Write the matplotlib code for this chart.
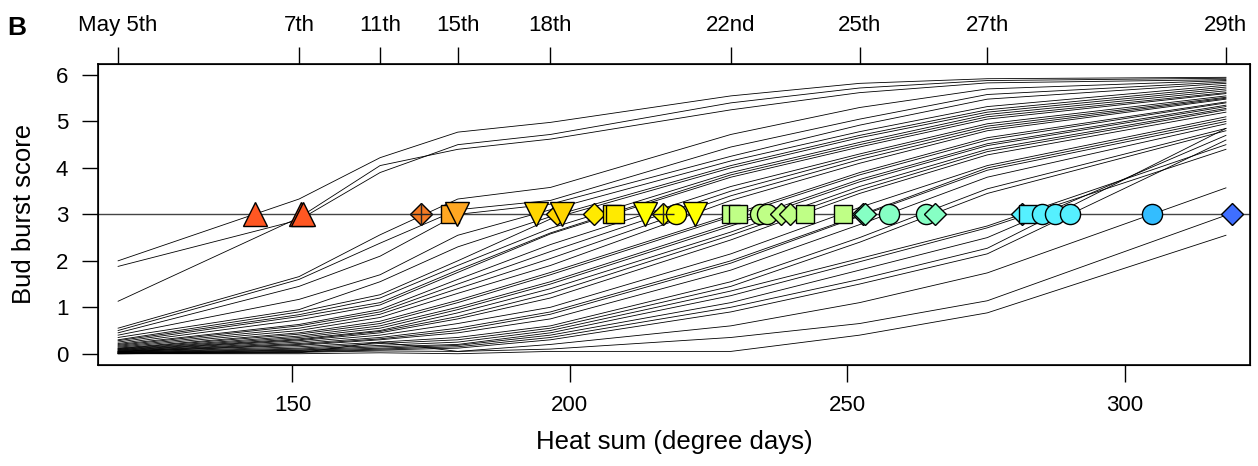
import numpy as np
import matplotlib
matplotlib.use("Agg")
import matplotlib.pyplot as plt

plt.rcParams['font.family'] = ['Liberation Sans', 'DejaVu Sans']

# heat sum at each scoring date (degree days)
heat_nodes = [118.6, 151.2, 165.8, 179.8, 196.5, 229.0, 252.2, 275.2, 318.2]
date_labels = ["May 5th", "7th", "11th", "15th", "18th", "22nd", "25th", "27th", "29th"]

# bud burst score of each plant at the scoring dates
curves = [
    [2.00, 3.33, 4.22, 4.77, 4.98, 5.55, 5.82, 5.92, 5.95],
    [1.88, 2.88, 3.90, 4.50, 4.72, 5.40, 5.72, 5.88, 5.93],
    [1.13, 2.93, 4.05, 4.40, 4.62, 5.25, 5.62, 5.83, 5.90],
    [0.55, 1.66, 2.56, 3.33, 3.58, 4.72, 5.30, 5.70, 5.88],
    [0.50, 1.60, 2.38, 3.10, 3.30, 4.45, 5.05, 5.58, 5.85],
    [0.45, 1.45, 2.10, 3.00, 3.22, 4.25, 4.92, 5.48, 5.82],
    [0.40, 1.17, 1.70, 2.55, 3.10, 4.15, 4.78, 5.32, 5.78],
    [0.35, 0.95, 1.55, 2.30, 2.95, 4.05, 4.70, 5.25, 5.74],
    [0.30, 0.90, 1.27, 2.00, 2.90, 4.00, 4.65, 5.20, 5.70],
    [0.28, 0.84, 1.20, 1.90, 2.70, 3.90, 4.55, 5.15, 5.66],
    [0.25, 0.80, 1.10, 1.80, 2.60, 3.85, 4.50, 5.10, 5.62],
    [0.22, 0.73, 1.05, 1.75, 2.58, 3.80, 4.45, 5.05, 5.60],
    [0.20, 0.63, 0.95, 1.60, 2.35, 3.60, 4.30, 4.95, 5.55],
    [0.18, 0.60, 0.90, 1.50, 2.20, 3.50, 4.25, 4.90, 5.52],
    [0.16, 0.55, 0.85, 1.40, 2.05, 3.40, 4.18, 4.85, 5.50],
    [0.14, 0.50, 0.78, 1.30, 1.90, 3.30, 4.10, 4.80, 5.48],
    [0.12, 0.45, 0.70, 1.15, 1.75, 2.99, 3.90, 4.65, 5.42],
    [0.11, 0.42, 0.65, 1.10, 1.70, 2.95, 3.85, 4.60, 5.40],
    [0.10, 0.38, 0.60, 1.00, 1.55, 2.80, 3.75, 4.52, 5.35],
    [0.09, 0.35, 0.55, 0.95, 1.50, 2.75, 3.70, 4.48, 5.32],
    [0.08, 0.32, 0.50, 0.88, 1.40, 2.62, 3.60, 4.40, 5.28],
    [0.07, 0.30, 0.48, 0.80, 1.30, 2.55, 3.52, 4.35, 5.25],
    [0.06, 0.28, 0.45, 0.75, 1.20, 2.45, 3.45, 4.28, 5.20],
    [0.05, 0.25, 0.40, 0.65, 1.00, 2.15, 3.15, 4.05, 5.10],
    [0.05, 0.22, 0.35, 0.55, 0.90, 2.00, 2.98, 4.00, 5.05],
    [0.04, 0.20, 0.32, 0.50, 0.85, 1.95, 2.96, 3.95, 5.00],
    [0.04, 0.18, 0.30, 0.45, 0.75, 1.80, 2.78, 3.80, 4.95],
    [0.03, 0.15, 0.25, 0.35, 0.60, 1.55, 2.50, 3.55, 4.85],
    [0.03, 0.12, 0.22, 0.30, 0.55, 1.45, 2.40, 3.45, 4.80],
    [0.02, 0.10, 0.18, 0.25, 0.50, 1.35, 2.05, 2.75, 4.50],
    [0.02, 0.08, 0.15, 0.20, 0.45, 1.25, 1.98, 2.71, 4.40],
    [0.01, 0.07, 0.12, 0.18, 0.40, 1.10, 1.80, 2.50, 4.70],
    [0.01, 0.05, 0.10, 0.15, 0.35, 1.00, 1.60, 2.27, 4.85],
    [0.01, 0.04, 0.08, 0.12, 0.30, 0.90, 1.50, 2.15, 4.60],
    [0.00, 0.03, 0.06, 0.05, 0.20, 0.60, 1.10, 1.74, 3.57],
    [0.00, 0.02, 0.25, 0.05, 0.10, 0.35, 0.65, 1.14, 2.98],
    [0.00, 0.00, 0.02, 0.00, 0.05, 0.05, 0.40, 0.88, 2.55],
]

# heat sum at which score 3 was reached, symbol and colour of each
mark_x = [143.2, 151.5, 151.9, 173.2, 178.4, 179.7, 193.9, 197.6, 198.5, 204.3,
          207.6, 208.2, 213.5, 216.8, 219.1, 222.5, 229.1, 230.3, 234.2, 235.5,
          238.1, 239.6, 242.3, 249.2, 252.8, 253.2, 257.5, 264.1, 265.7, 281.4,
          282.5, 285.0, 287.4, 290.1, 304.8, 319.2]
mark_shape = ['^', '^', '^', 'D+', 's', 'v', 'v', 'D', 'v', 'D',
              's', 's', 'v', 'D+', 'o', 'v', 's', 's', 'o', 'o',
              'D', 'D', 's', 's', 'D', 'D', 'o', 'o', 'D', 'D',
              's', 'o', 'o', 'o', 'o', 'D']
mark_color = ['#FF5722', '#FF5722', '#FF5722', '#F27A24', '#FFA722', '#FFA722',
              '#FFD500', '#FFD500', '#FFD500', '#FFEA00', '#FFEA00', '#FFEA00',
              '#FFFF00', '#FFFF00', '#FFFF00', '#FFFF00', '#BFFF86', '#BFFF86',
              '#BFFF86', '#BFFF86', '#BFFF86', '#BFFF86', '#BFFF86', '#BFFF86',
              '#86FFC4', '#86FFC4', '#86FFC4', '#86FFC4', '#86FFC4', '#55F0FF',
              '#55F0FF', '#55F0FF', '#55F0FF', '#55F0FF', '#33BDFF', '#3F6FFF']

sizes = {'^': 17, 'v': 17, 'D': 11.5, 's': 13, 'o': 14.5}

fig = plt.figure(figsize=(12.58, 4.66), dpi=100)
ax = fig.add_axes([0.078, 0.217, 0.9155, 0.646])

for c in curves:
    ax.plot(heat_nodes, c, color='black', lw=0.6, zorder=2)

ax.axhline(3, color='#444444', lw=1.0, zorder=1)

for x, m, col in zip(mark_x, mark_shape, mark_color):
    base = m[0]
    ax.plot([x], [3], marker=base, ms=sizes[base], mfc=col, mec='black',
            mew=1.0, ls='none', zorder=3)
    if m == 'D+':
        ax.plot([x], [3], marker='+', ms=16, mec='#222222', mew=1.0,
                ls='none', zorder=4)

ax.set_xlim(115.0, 322.5)
ax.set_ylim(-0.24, 6.24)
ax.set_xticks([150, 200, 250, 300])
ax.set_yticks(range(0, 7))
ax.tick_params(axis='x', length=12, width=1, pad=10, labelsize=16)
ax.tick_params(axis='y', length=11.5, width=1, pad=10, labelsize=16)
for s in ax.spines.values():
    s.set_linewidth(1.2)
ax.set_xlabel("Heat sum (degree days)", fontsize=18.5, labelpad=10)
ax.set_ylabel("Bud burst score", fontsize=18.5, labelpad=14)

top = ax.twiny()
top.set_xlim(ax.get_xlim())
top.set_xticks(heat_nodes)
top.set_xticklabels(date_labels)
top.tick_params(axis='x', length=12, width=1, pad=8, labelsize=16)

fig.text(0.006, 0.925, "B", fontsize=19, fontweight='bold')

fig.savefig("out.png", dpi=100)
